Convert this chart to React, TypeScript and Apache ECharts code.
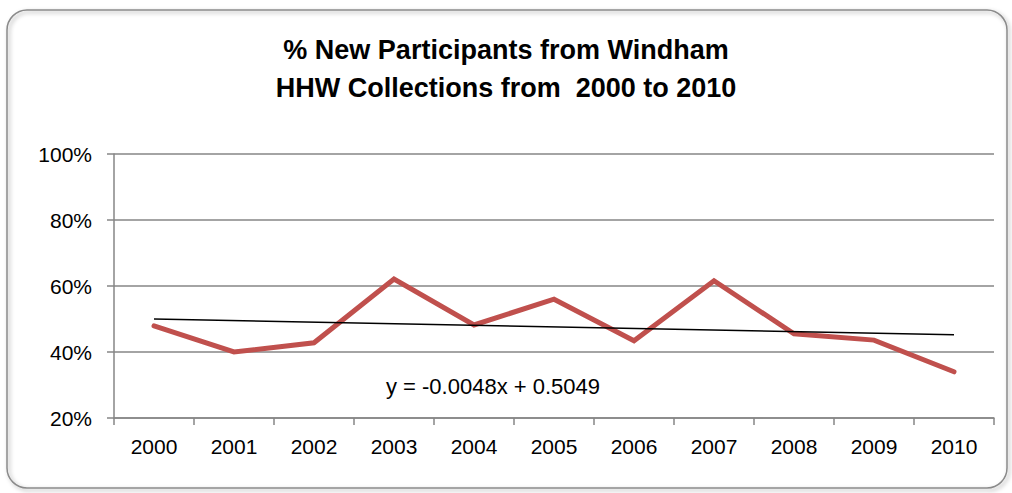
import React, { useEffect, useRef } from "react";
import * as echarts from "echarts";

const years = ["2000", "2001", "2002", "2003", "2004", "2005", "2006", "2007", "2008", "2009", "2010"];
const newParticipants = [0.479, 0.4, 0.428, 0.621, 0.482, 0.56, 0.434, 0.616, 0.455, 0.436, 0.34];
const trendYears = ["2000", "2010"];
const trendValues = [0.5001, 0.4521];
const trendLabel = "y = -0.0048x + 0.5049";
const titleLines = ["% New Participants from Windham", "HHW Collections from  2000 to 2010"];

export default function App() {
  const ref = useRef<HTMLDivElement>(null);
  useEffect(() => {
    if (!ref.current) return;
    const chart = echarts.init(ref.current, null, { renderer: "svg" });
    const axisColor = "#868686";
    chart.setOption({
      animation: false,
      backgroundColor: "#ffffff",
      title: {
        text: titleLines.join("\n"),
        left: "center",
        top: 26,
        textStyle: {
          fontFamily: "Liberation Sans",
          fontWeight: "bold",
          fontSize: 27,
          lineHeight: 38,
          color: "#000",
        },
      },
      grid: { left: 114, right: 18, top: 154, bottom: 75 },
      xAxis: {
        type: "category",
        data: years,
        boundaryGap: true,
        axisLine: { lineStyle: { color: axisColor, width: 1.5 } },
        axisTick: { show: true, length: 7, lineStyle: { color: axisColor, width: 1.5 } },
        axisLabel: { color: "#000", fontSize: 21, fontFamily: "Liberation Sans", margin: 18 },
        splitLine: { show: false },
      },
      yAxis: {
        type: "value",
        min: 0.2,
        max: 1,
        interval: 0.2,
        axisLine: { show: true, lineStyle: { color: axisColor, width: 1.5 } },
        axisTick: { show: true, length: 7, lineStyle: { color: axisColor, width: 1.5 } },
        axisLabel: {
          color: "#000",
          fontSize: 21,
          fontFamily: "Liberation Sans",
          margin: 22,
          formatter: (v: number) => `${Math.round(v * 100)}%`,
        },
        splitLine: { show: true, lineStyle: { color: axisColor, width: 1.5 } },
      },
      series: [
        {
          type: "line",
          data: newParticipants,
          symbol: "none",
          lineStyle: { color: "#C0504D", width: 5, cap: "round", join: "miter" },
          z: 3,
        },
        {
          type: "line",
          data: trendYears.map((y, i) => [y, trendValues[i]]),
          symbol: "none",
          lineStyle: { color: "#000", width: 1.5 },
          z: 4,
        },
      ],
      graphic: [
        {
          type: "rect",
          shape: { x: 7, y: 10, width: 1000, height: 478, r: 20 },
          style: { fill: "none", stroke: "#8a8a8a", lineWidth: 1.5, shadowBlur: 4, shadowColor: "rgba(0,0,0,0.35)", shadowOffsetX: 2, shadowOffsetY: 2 },
          silent: true,
          z: -1,
        },
        {
          type: "text",
          x: 493,
          y: 386,
          style: {
            text: trendLabel,
            fontSize: 22,
            fontFamily: "Liberation Sans",
            fill: "#000",
            align: "center",
            verticalAlign: "middle",
          },
        },
      ],
    });
    return () => chart.dispose();
  }, []);
  return <div ref={ref} style={{ position: "fixed", left: 0, top: 0, width: 1012, height: 493 }} />;
}
